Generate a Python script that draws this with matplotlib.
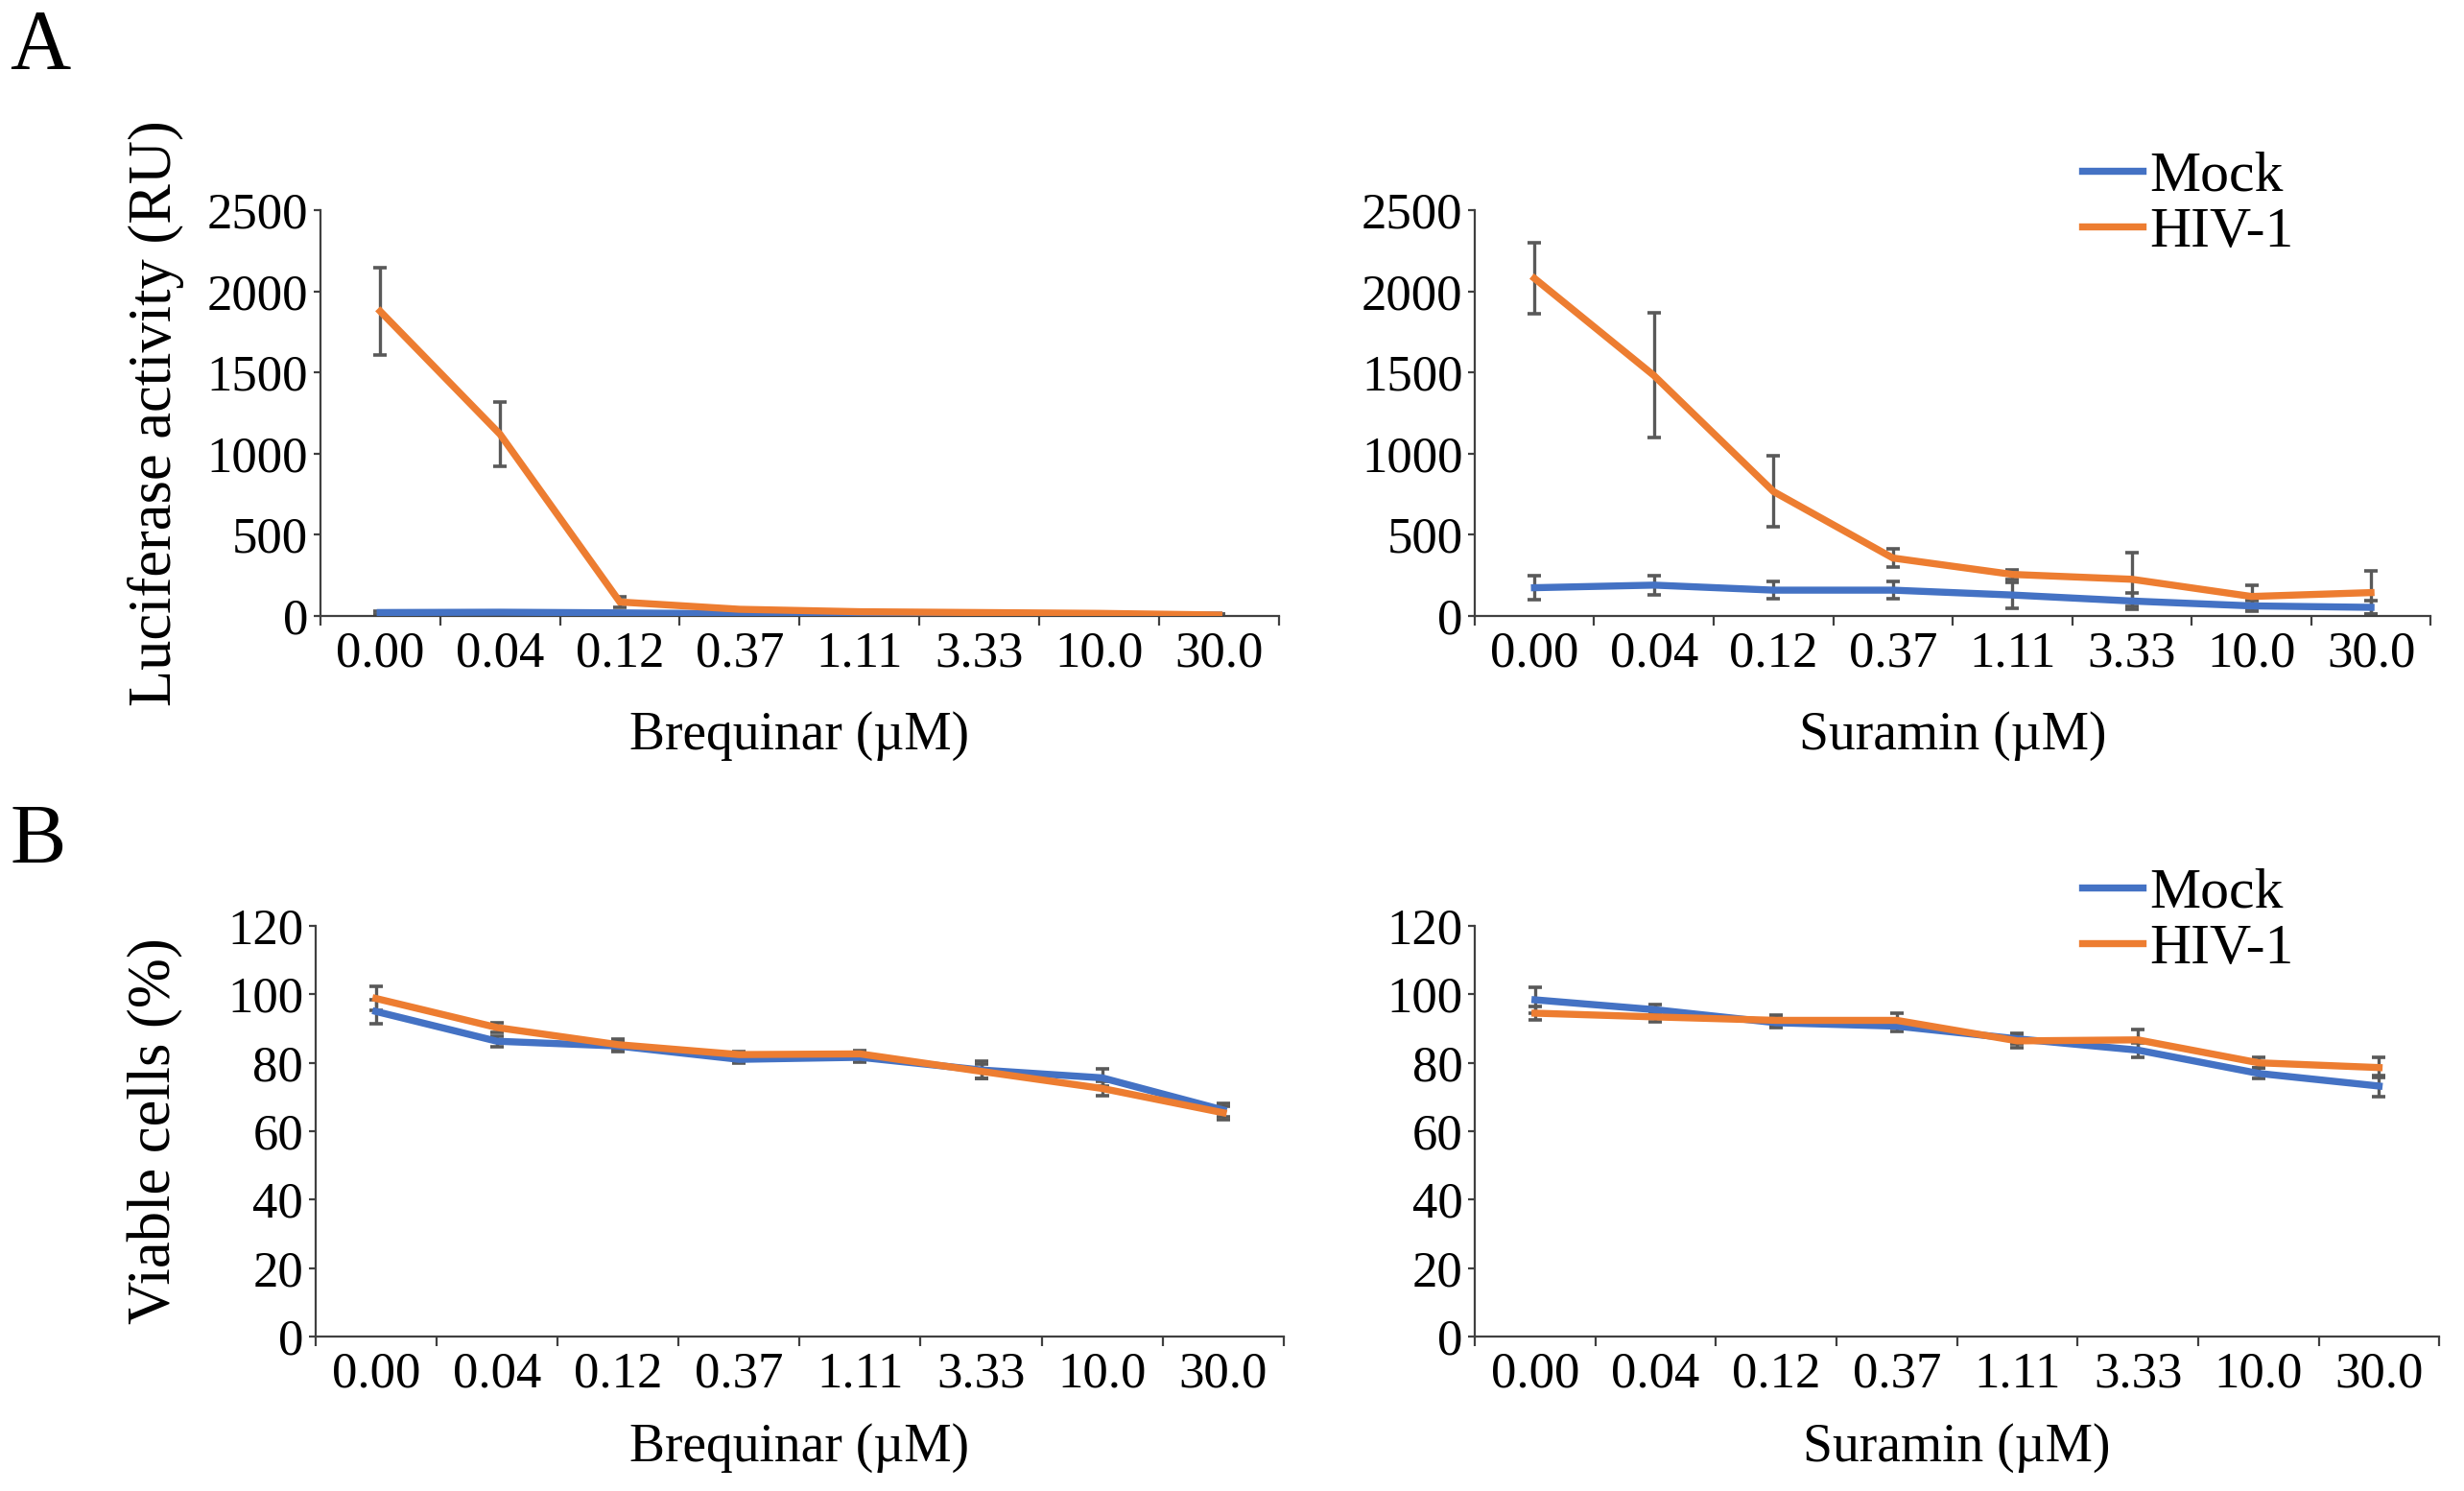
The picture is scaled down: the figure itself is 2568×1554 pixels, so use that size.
import numpy as np
import matplotlib
matplotlib.use('Agg')
import matplotlib.pyplot as plt

plt.rcParams['font.family'] = ['Liberation Serif', 'DejaVu Serif']

# concentrations (uM)
conc = ['0.00', '0.04', '0.12', '0.37', '1.11', '3.33', '10.0', '30.0']

# A: luciferase activity (RU)
brq_luc_mock = [20, 22, 18, 12, 8, 6, 5, 5]
brq_luc_mock_err = [8, 6, 6, 5, 4, 4, 3, 3]
brq_luc_hiv = [1877, 1119, 85, 40, 25, 20, 15, 5]
brq_luc_hiv_err = [270, 200, 30, 8, 5, 5, 5, 4]

sur_luc_mock = [173, 189, 158, 158, 128, 91, 61, 52]
sur_luc_mock_err = [75, 60, 55, 55, 80, 50, 30, 40]
sur_luc_hiv = [2080, 1481, 766, 356, 255, 225, 119, 143]
sur_luc_hiv_err = [220, 385, 220, 55, 30, 165, 70, 135]

# B: viable cells (%)
brq_via_mock = [95.0, 86.3, 84.9, 81.0, 81.6, 77.9, 75.6, 66.2]
brq_via_mock_err = [3.5, 1.5, 1.5, 1.0, 1.5, 2.5, 2.5, 2.0]
brq_via_hiv = [98.8, 90.3, 85.3, 82.4, 82.6, 77.5, 72.5, 65.4]
brq_via_hiv_err = [3.5, 1.5, 1.5, 1.0, 1.0, 2.0, 2.0, 2.0]

sur_via_mock = [98.4, 95.5, 91.7, 90.7, 87.0, 83.7, 76.9, 73.2]
sur_via_mock_err = [3.8, 1.5, 1.5, 1.5, 1.5, 2.0, 1.5, 3.0]
sur_via_hiv = [94.5, 93.4, 92.4, 92.4, 86.4, 86.7, 80.0, 78.6]
sur_via_hiv_err = [2.0, 1.5, 1.5, 2.0, 2.0, 3.0, 1.5, 3.0]

BLUE = '#4472C4'
ORANGE = '#ED7D31'
AXC = '#404040'
ERRC = '#595959'

fig = plt.figure(figsize=(25.68, 15.54), dpi=100)

ax_a1 = fig.add_axes([0.130, 0.587, 0.389, 0.272])
ax_a2 = fig.add_axes([0.5985, 0.587, 0.388, 0.272])
ax_b1 = fig.add_axes([0.128, 0.1036, 0.393, 0.2754])
ax_b2 = fig.add_axes([0.5985, 0.1036, 0.3915, 0.2754])


def draw(ax, mock, mock_err, hiv, hiv_err, ymax, ystep, xlabel, xlpad):
    x = np.arange(len(conc))
    ax.errorbar(x, mock, yerr=mock_err, fmt='none', ecolor=ERRC,
                elinewidth=2.4, capsize=5, capthick=2.6, zorder=2)
    ax.errorbar(x, hiv, yerr=hiv_err, fmt='none', ecolor=ERRC,
                elinewidth=2.4, capsize=5, capthick=2.6, zorder=2)
    ax.plot(x, mock, color=BLUE, lw=5.3, label='Mock', zorder=3,
            solid_joinstyle='miter')
    ax.plot(x, hiv, color=ORANGE, lw=5.3, label='HIV-1', zorder=4,
            solid_joinstyle='miter')

    ax.set_xlim(-0.5, len(conc) - 0.5)
    ax.set_ylim(0, ymax)
    ax.set_yticks(np.arange(0, ymax + 1, ystep))
    ax.set_xticks(np.arange(-0.5, len(conc), 1))
    ax.set_xticklabels([])
    ax.set_xticks(x, minor=True)
    ax.set_xticklabels(conc, minor=True)

    for s in ['top', 'right']:
        ax.spines[s].set_visible(False)
    for s in ['left', 'bottom']:
        ax.spines[s].set_color(AXC)
        ax.spines[s].set_linewidth(1.6)

    ax.tick_params(axis='x', which='major', direction='out', length=7,
                   width=1.6, color=AXC)
    ax.tick_params(axis='x', which='minor', length=0, pad=11, labelsize=38)
    ax.tick_params(axis='y', direction='out', length=5, width=1.6,
                   color=AXC, pad=4, labelsize=38)
    ax.set_xlabel(xlabel, fontsize=40, labelpad=xlpad)


draw(ax_a1, brq_luc_mock, brq_luc_mock_err, brq_luc_hiv, brq_luc_hiv_err,
     2500, 500, 'Brequinar (\u00b5M)', 26)
draw(ax_a2, sur_luc_mock, sur_luc_mock_err, sur_luc_hiv, sur_luc_hiv_err,
     2500, 500, 'Suramin (\u00b5M)', 26)
draw(ax_b1, brq_via_mock, brq_via_mock_err, brq_via_hiv, brq_via_hiv_err,
     120, 20, 'Brequinar (\u00b5M)', 19)
draw(ax_b2, sur_via_mock, sur_via_mock_err, sur_via_hiv, sur_via_hiv_err,
     120, 20, 'Suramin (\u00b5M)', 19)

ax_a1.set_ylabel('Luciferase activity (RU)', fontsize=45)
ax_a1.yaxis.set_label_coords(-0.142, 0.5)
ax_b1.set_ylabel('Viable cells (%)', fontsize=45)
ax_b1.yaxis.set_label_coords(-0.136, 0.5)

for ax, ly in [(ax_a2, 0.8625), (ax_b2, 0.3818)]:
    ax.legend(loc='center left', bbox_to_anchor=(0.845, ly),
              bbox_transform=fig.transFigure, frameon=False, fontsize=43,
              handlelength=1.05, handletextpad=0.12, labelspacing=0.06,
              borderpad=0, borderaxespad=0)

fig.text(0.004, 0.9543, 'A', fontsize=63, va='baseline', ha='left')
fig.text(0.004, 0.4215, 'B', fontsize=63, va='baseline', ha='left')

fig.savefig('out.png', dpi=100)
